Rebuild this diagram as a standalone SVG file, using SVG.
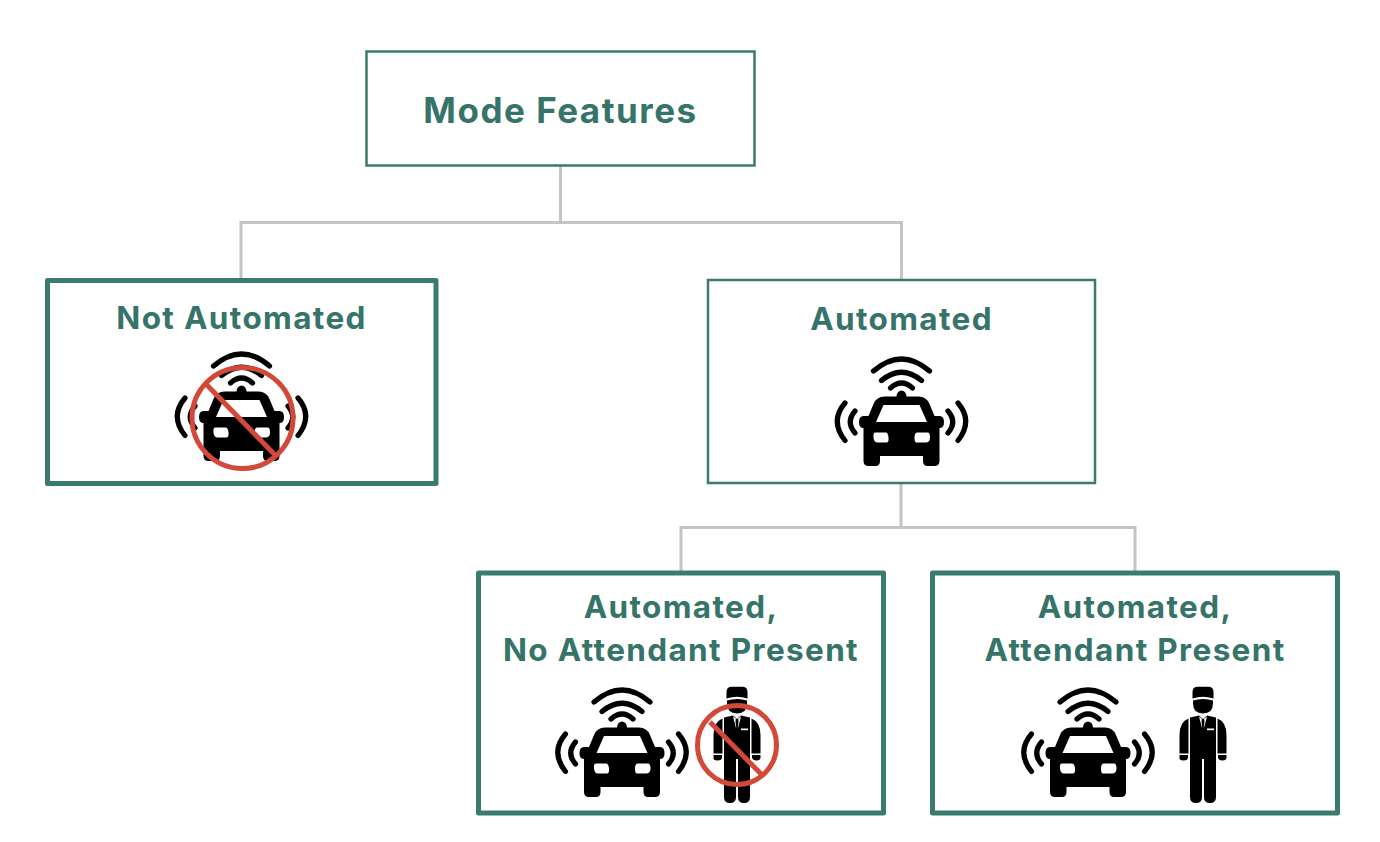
<svg xmlns="http://www.w3.org/2000/svg" xmlns:xlink="http://www.w3.org/1999/xlink" width="1380" height="842" viewBox="0 0 1380 842">
<style>
.thin{fill:#fff;stroke:#3b7a6e;stroke-width:2.5}
.thick{fill:#fff;stroke:#3b7a6e;stroke-width:5;stroke-linejoin:round}
.lbl{font-family:Inter,Lato,"Liberation Sans",sans-serif;font-weight:700;fill:#36746a;text-anchor:middle;letter-spacing:1.35px}
.l1{font-size:31.5px}
.big{font-size:35px;letter-spacing:1.5px}
.conn{fill:none;stroke:#c4c4c4;stroke-width:3}
.wave{fill:none;stroke:#000;stroke-width:5.2;stroke-linecap:round}
.no{fill:none;stroke:#d2493a;stroke-width:5}
</style>
<defs>
<g id="car">
<path class="wave" d="M-28 31Q0 7 28 31M-20 40.500Q0 24 20 40.500M-11 48Q0 38 11 48M-56.500 63Q-72 81 -56.500 100.500M56.500 63Q72 81 56.500 100.500M-46.500 71Q-56 82 -46.500 93M46.500 71Q56 82 46.500 93"/>
<path fill="#000" fill-rule="evenodd" d="M-5 56.500A5 6 0 0 1 5 56.500L17 56.500Q25 56.500 28 64L33 76H38Q42.500 76 42.500 82T38 88H38V121Q38 126 33 126H26Q21.500 126 21.500 121V116H-21.500V121Q-21.500 126 -26 126H-33Q-38 126 -38 121V88H-38Q-42.500 88 -42.500 82T-38 76H-33L-28 64Q-25 56.500 -17 56.500ZM-18 65L-25.500 82H25.500L18 65ZM-26 92.500Q-28.500 92.500 -28 97.500T-24 102.500H-15Q-12.500 102.500 -13 97.500T-16 92.500ZM16 92.500Q13 92.500 13 97.500T15 102.500H24Q28.500 102.500 28.500 97.500T26 92.500Z"/>
</g>
<g id="person">
<path fill="#000" d="M-10.500 17Q-10.500 11.700 -5 11.700H5Q10.500 11.700 10.500 17V23.500Q0 20 -10.500 23.500Z"/>
<path fill="#000" d="M-10 25.500Q0 22.500 10 25.500V28Q10 38.500 0 38.500T-10 28Z"/>
<path fill="#000" d="M-13 42.500L-4 40.500L0 44L4 40.500L13 42.500V122Q13 128 7 128T1 122V84H-1V122Q-1 128 -7 128T-13 122Z"/>
<path fill="#000" d="M-14.500 43.500V78.500H-23.500V60Q-23.500 47 -14.500 43.500ZM14.500 43.500V78.500H23.500V60Q23.500 47 14.500 43.500Z"/>
<path fill="#000" d="M-23.500 80H-15V82.500Q-15 85.500 -19.500 85.500T-23.500 82.500ZM15 80H23.500V82.500Q23.500 85.500 19.500 85.500T15 82.500Z"/>
<path fill="#fff" d="M-4 41.500L-1.200 43.500L-1.500 47L-.8 52L-1 53ZM4 41.500L1.200 43.500L1.500 47L.8 52L1 53Z"/>
<path fill="#fff" d="M4 53.500H11V55.200H4Z"/>
</g>
</defs>
<g id="connectors">
<path class="conn" d="M560.500 165V222.500M241 278V222.500H901.500V280"/>
<path class="conn" d="M901 483V527.500M681 572V527.500H1135V572"/>
</g>
<g id="mode-features">
<rect class="thin" x="366.500" y="51.500" width="388" height="114"/>
<text class="lbl big" x="560.500" y="122.500">Mode Features</text>
</g>
<g id="not-automated">
<rect class="thick" x="47.500" y="280.500" width="388.500" height="203"/>
<text class="lbl l1" x="241.500" y="329">Not Automated</text>
<use xlink:href="#car" href="#car" transform="translate(241.500 335)"/>
<circle class="no" cx="242.500" cy="418" r="50.500"/>
<path class="no" d="M205 383L277 457"/>
</g>
<g id="automated">
<rect class="thin" x="708" y="280" width="387" height="203"/>
<text class="lbl l1" x="901.500" y="330">Automated</text>
<use xlink:href="#car" href="#car" transform="translate(901.500 340)"/>
</g>
<g id="automated-no-attendant">
<rect class="thick" x="478.500" y="573" width="405" height="240"/>
<text class="lbl l1" x="681" y="618">Automated,</text>
<text class="lbl l1" x="681" y="661">No Attendant Present</text>
<use xlink:href="#car" href="#car" transform="translate(622 671)"/>
<use xlink:href="#person" href="#person" transform="translate(737 675)"/>
<circle class="no" cx="737" cy="745" r="39.500"/>
<path class="no" d="M710 722L762 775"/>
</g>
<g id="automated-attendant">
<rect class="thick" x="932.500" y="573" width="405" height="240"/>
<text class="lbl l1" x="1135" y="618">Automated,</text>
<text class="lbl l1" x="1135" y="661">Attendant Present</text>
<use xlink:href="#car" href="#car" transform="translate(1088 671)"/>
<use xlink:href="#person" href="#person" transform="translate(1203 675)"/>
</g>
</svg>
